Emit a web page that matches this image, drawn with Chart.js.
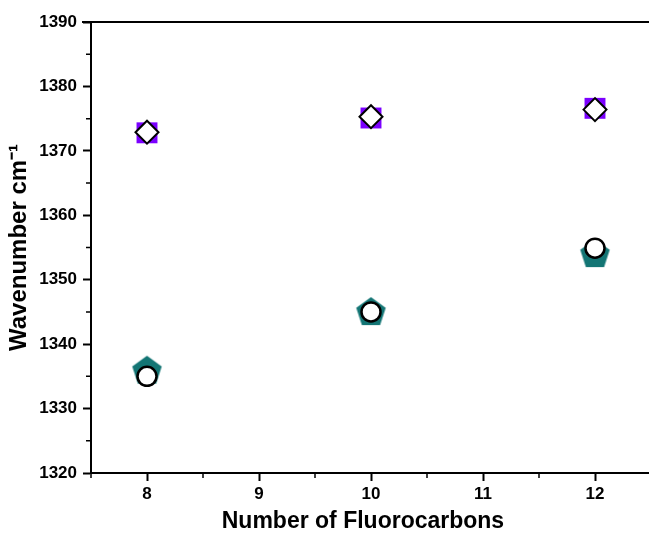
<!DOCTYPE html>
<html>
<head>
<meta charset="utf-8">
<script src="https://cdn.jsdelivr.net/npm/chart.js@4.4.0/dist/chart.umd.min.js"></script>
<style>
html,body{margin:0;padding:0;background:#fff;overflow:hidden;}
#wrap{width:649px;height:533px;position:relative;overflow:hidden;}
canvas{display:block;}
</style>
</head>
<body>
<div id="wrap"><canvas id="c" width="666" height="533"></canvas></div>
<script>
// ---- data ----
const categories = [8, 10, 12];
const squareVals = [1372.8, 1375.1, 1376.6];
const diamondVals = [1372.9, 1375.3, 1376.4];
const pentagonVals = [1335.8, 1344.9, 1353.9];
const circleVals = [1335.0, 1345.0, 1354.9];
const xTickLabels = [8, 9, 10, 11, 12];
const xMinorTicks = [7.5, 8.5, 9.5, 10.5, 11.5, 12.5];
const yTickLabels = [1320, 1330, 1340, 1350, 1360, 1370, 1380, 1390];
const yMinorTicks = [1325, 1335, 1345, 1355, 1365, 1375, 1385];

const FONT = "'Liberation Sans', Arial, sans-serif";

function pts(vals){ return categories.map((x,i)=>({x:x, y:vals[i]})); }

// pentagon marker image
function makePentagon(R, color){
  const s = Math.ceil(2*R)+2;
  const cv = document.createElement('canvas');
  cv.width = s; cv.height = s;
  const g = cv.getContext('2d');
  const cx = s/2, cy = s/2;
  g.beginPath();
  for(let k=0;k<5;k++){
    const a = -Math.PI/2 + k*2*Math.PI/5;
    const px = cx + R*Math.cos(a), py = cy + R*Math.sin(a);
    if(k===0) g.moveTo(px,py); else g.lineTo(px,py);
  }
  g.closePath();
  g.fillStyle = color;
  g.fill();
  return cv;
}
const pentagon = makePentagon(15.5, '#137574');

const frame = {
  id:'frame',
  afterDraw(chart){
    const ctx = chart.ctx, a = chart.chartArea;
    const xs = chart.scales.x, ys = chart.scales.y;
    ctx.save();
    ctx.strokeStyle = '#000';
    ctx.lineWidth = 2;
    ctx.beginPath();
    ctx.moveTo(a.left-9, a.top);
    ctx.lineTo(a.right+2, a.top);
    ctx.stroke();
    ctx.lineWidth = 1.5;
    ctx.beginPath();
    xMinorTicks.forEach(v=>{
      const px = xs.getPixelForValue(v);
      ctx.moveTo(px, a.bottom);
      ctx.lineTo(px, a.bottom+5);
    });
    yMinorTicks.forEach(v=>{
      const py = ys.getPixelForValue(v);
      ctx.moveTo(a.left, py);
      ctx.lineTo(a.left-5, py);
    });
    ctx.stroke();
    ctx.restore();
  }
};

new Chart(document.getElementById('c'), {
  type:'scatter',
  data:{
    datasets:[
      {label:'sq', data:pts(squareVals), pointStyle:'rect', pointRadius:14.8, pointHoverRadius:14.8,
       backgroundColor:'#7b00ff', borderWidth:0, order:4},
      {label:'di', data:pts(diamondVals), pointStyle:'rectRot', pointRadius:11.5, pointHoverRadius:11.5,
       backgroundColor:'#ffffff', borderColor:'#000', borderWidth:2, order:3},
      {label:'pe', data:pts(pentagonVals), pointStyle:pentagon, pointRadius:15, pointHoverRadius:15,
       backgroundColor:'#137574', borderWidth:0, order:2},
      {label:'ci', data:pts(circleVals), pointStyle:'circle', pointRadius:9.5, pointHoverRadius:9.5,
       backgroundColor:'#ffffff', borderColor:'#000', borderWidth:2.5, order:1}
    ]
  },
  options:{
    responsive:false,
    animation:false,
    events:[],
    layout:{padding:{top:22, left:0, right:0, bottom:0}},
    plugins:{legend:{display:false}, tooltip:{enabled:false}},
    scales:{
      x:{
        type:'linear', min:7.5, max:12.5,
        afterBuildTicks(s){ s.ticks = xTickLabels.map(v=>({value:v})); },
        afterFit(s){ s.height = 60; s.paddingLeft = 0; s.paddingRight = 0; },
        grid:{drawOnChartArea:false, drawTicks:true, tickLength:8, tickWidth:2, tickColor:'#000'},
        border:{display:true, color:'#000', width:2},
        ticks:{color:'#000', padding:3, font:{family:FONT, size:17, weight:'bold'},
               callback:(v)=>String(v), autoSkip:false, maxRotation:0},
        title:{display:true, text:'Number of Fluorocarbons\u2002\u2009', color:'#000',
               font:{family:FONT, size:23, weight:'bold', lineHeight:1}, padding:{top:0,bottom:0}}
      },
      y:{
        type:'linear', min:1320, max:1390,
        afterBuildTicks(s){ s.ticks = yTickLabels.map(v=>({value:v})); },
        afterFit(s){ s.width = 91; },
        grid:{drawOnChartArea:false, drawTicks:true, tickLength:8, tickWidth:2, tickColor:'#000'},
        border:{display:true, color:'#000', width:2},
        ticks:{color:'#000', padding:6, font:{family:FONT, size:17, weight:'bold'},
               callback:(v)=>String(v), autoSkip:false},
        title:{display:true, text:'Wavenumber cm\u207B\u00B9', color:'#000',
               font:{family:FONT, size:24, weight:'bold', lineHeight:1.2}, padding:{top:5,bottom:0}}
      }
    }
  },
  plugins:[frame]
});
</script>
</body>
</html>
